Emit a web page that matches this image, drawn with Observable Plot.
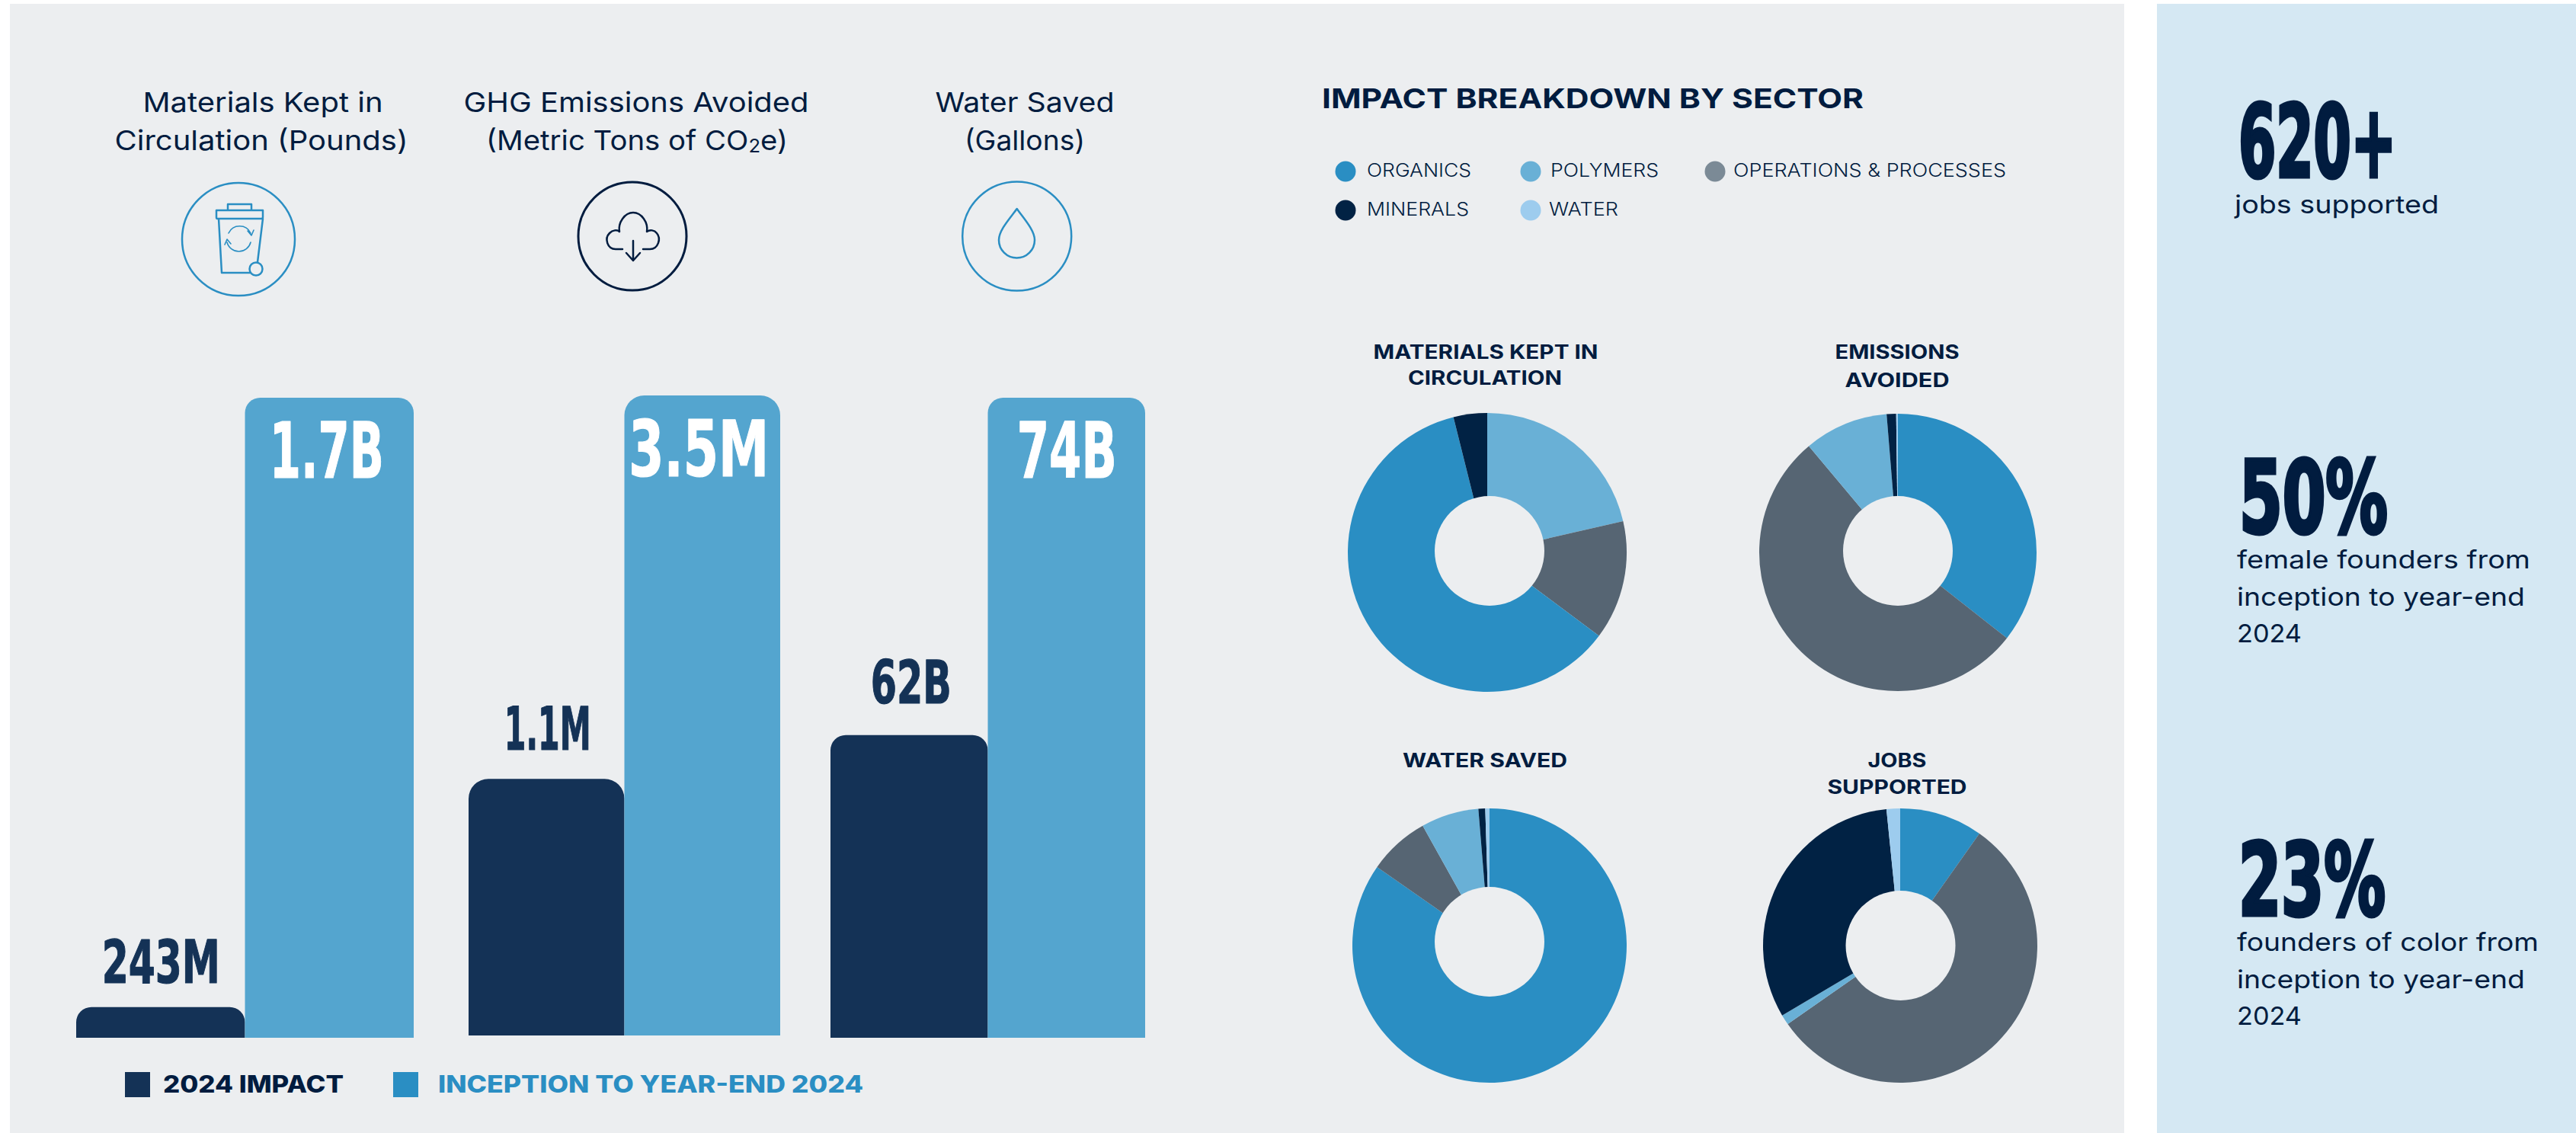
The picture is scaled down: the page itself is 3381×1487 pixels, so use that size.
<!DOCTYPE html>
<html>
<head>
<meta charset="utf-8">
<script src="https://cdn.jsdelivr.net/npm/d3@7"></script>
<script src="https://cdn.jsdelivr.net/npm/@observablehq/plot@0.6"></script>
<style>
html,body{margin:0;padding:0;background:#fff;}
#page{position:relative;width:3381px;height:1487px;overflow:hidden;background:#fff;}
.box{position:absolute;}
.slot{position:absolute;}
.slot svg{display:block;max-width:none;}
#overlay{position:absolute;left:0;top:0;}
</style>
</head>
<body>
<div id="page"></div>
<script>
// ---------- DATA ----------
const seriesNames = ["2024 IMPACT", "INCEPTION TO YEAR-END 2024"];
const impactLabels = ["243M", "1.1M", "62B"];
const inceptionLabels = ["1.7B", "3.5M", "74B"];
// bar heights as drawn, in percent of the tallest bar
const impactHeights = [4.8, 40.1, 47.3];
const inceptionHeights = [100, 100, 100];

const sectors = ["ORGANICS", "POLYMERS", "OPERATIONS & PROCESSES", "MINERALS", "WATER"];
const materialsSectors = ["POLYMERS", "OPERATIONS & PROCESSES", "ORGANICS", "MINERALS"];
const materialsShares = [21.4, 13.8, 60.9, 3.9];
const emissionsSectors = ["ORGANICS", "OPERATIONS & PROCESSES", "POLYMERS", "MINERALS", "WATER"];
const emissionsShares = [35.6, 53.3, 9.8, 1.1, 0.2];
const waterSectors = ["ORGANICS", "OPERATIONS & PROCESSES", "POLYMERS", "MINERALS", "WATER"];
const waterShares = [84.7, 7.2, 6.8, 0.8, 0.5];
const jobsSectors = ["ORGANICS", "OPERATIONS & PROCESSES", "POLYMERS", "MINERALS", "WATER"];
const jobsShares = [9.8, 55.5, 1.2, 31.9, 1.6];

// ---------- STYLE ----------
const NAVY = "#011C3F", BAR_DARK = "#143256", BAR_LIGHT = "#54A5CF", BLUE = "#2A8EC3", PANEL = "#ECEEF0";
const sectorColors = ["#2A8EC3", "#69B0D6", "#566573", "#012244", "#9DCCEE"];
const legendColors = ["#2A8EC3", "#69B0D6", "#7B8A96", "#012244", "#9DCCEE"];
const SANS = "Inter, 'Noto Sans', sans-serif";
const NARROW = "'Liberation Sans Narrow', 'DejaVu Sans Condensed', sans-serif";

const page = document.getElementById("page");
function box(l, t, w, h, bg) {
  const d = document.createElement("div");
  d.className = "box";
  d.style.cssText = `left:${l}px;top:${t}px;width:${w}px;height:${h}px;background:${bg}`;
  page.appendChild(d);
}
box(13, 5, 2775, 1482, PANEL);
box(2831, 5, 550, 1482, "#D5E8F3");

function place(node, left, top, w) {
  const s = document.createElement("div");
  s.className = "slot";
  s.style.cssText = `left:${left}px;top:${top}px;width:${w}px`;
  s.appendChild(node);
  page.appendChild(s);
}

// ---------- BAR PANELS ----------
const barPanels = [
  {i: 0, left: 100, top: 522, width: 443, gap: 32, r: 20, impactW: 155, inceptionW: 150, insideDrop: 12.4, impactDx: 0, inceptionDx: -4},
  {i: 1, left: 615, top: 519, width: 409, gap: 39, r: 26, impactW: 114, inceptionW: 184, insideDrop: 12.6, impactDx: 1, inceptionDx: -5},
  {i: 2, left: 1090, top: 522, width: 413, gap: 42, r: 20, impactW: 106, inceptionW: 131, insideDrop: 12.4, impactDx: 2, inceptionDx: 0}
];
for (const p of barPanels) {
  const rows = [
    {series: seriesNames[0], h: impactHeights[p.i], label: impactLabels[p.i]},
    {series: seriesNames[1], h: inceptionHeights[p.i], label: inceptionLabels[p.i]}
  ];
  const plot = Plot.plot({
    width: p.width, height: 840,
    marginTop: 0, marginBottom: 0, marginLeft: 0, marginRight: 0,
    style: {background: "transparent"},
    x: {domain: seriesNames, padding: 0, axis: null, round: false},
    y: {domain: [0, 100], axis: null},
    color: {domain: seriesNames, range: [BAR_DARK, BAR_LIGHT]},
    marks: [
      Plot.barY(rows, {x: "series", y: "h", fill: "series", rx1y1: p.r, rx2y1: p.r}),
      Plot.text([rows[0]], {x: "series", y: "h", text: "label", dy: -p.gap, dx: p.impactDx, lineAnchor: "bottom",
        fill: BAR_DARK, stroke: BAR_DARK, strokeWidth: 1.2, fontFamily: NARROW, fontWeight: 700, fontSize: 78, className: "impact-label"}),
      Plot.text([rows[1]], {x: "series", y: d => d.h - p.insideDrop, text: "label", dx: p.inceptionDx, lineAnchor: "bottom",
        fill: "#ffffff", stroke: "#ffffff", strokeWidth: 1.2, fontFamily: NARROW, fontWeight: 700, fontSize: 102, className: "inception-label"})
    ]
  });
  const fit = (cls, w) => plot.querySelectorAll(`.${cls} text`).forEach(t => {
    t.setAttribute("textLength", w);
    t.setAttribute("lengthAdjust", "spacingAndGlyphs");
  });
  fit("impact-label", p.impactW);
  fit("inception-label", p.inceptionW);
  place(plot, p.left, p.top, p.width);
}

// ---------- DONUTS ----------
function donut(names, shares, cx, cy, r, inner, holeDx, holeDy) {
  const rows = names.map((sector, k) => ({sector, share: shares[k]}));
  const size = 2 * r + 4;
  const plot = Plot.plot({
    width: size, height: size,
    marginTop: 0, marginBottom: 0, marginLeft: 0, marginRight: 0,
    style: {background: "transparent"},
    x: {domain: [0, 100], range: [0, 2 * Math.PI], axis: null},
    color: {domain: sectors, range: sectorColors},
    marks: [
      Plot.barX(rows, Plot.stackX({
        x: "share", fill: "sector", order: null,
        render(index, scales, values, dims) {
          const arc = d3.arc().innerRadius(0).outerRadius(r);
          const g = d3.create("svg:g").attr("transform", `translate(${dims.width / 2},${dims.height / 2})`);
          for (const i of index) {
            g.append("path")
              .attr("d", arc({startAngle: values.x1[i], endAngle: values.x2[i]}))
              .attr("fill", values.fill[i]);
          }
          g.append("circle").attr("cx", holeDx).attr("cy", holeDy).attr("r", inner).attr("fill", PANEL);
          return g.node();
        }
      }))
    ]
  });
  place(plot, cx - size / 2, cy - size / 2, size);
}
donut(materialsSectors, materialsShares, 1952, 725, 183, 72, 3, -2);
donut(emissionsSectors, emissionsShares, 2491, 725, 182, 72, 0, -2);
donut(waterSectors, waterShares, 1955, 1241, 180, 72, 0, -5);
donut(jobsSectors, jobsShares, 2493.5, 1241, 180, 72, 0.5, 0);

// ---------- OVERLAY: TEXT AND ICONS ----------
const overlay = d3.select(page).append("svg").attr("id", "overlay")
  .attr("width", 3381).attr("height", 1487).attr("viewBox", "0 0 3381 1487");

function label(str, x, y, width, o = {}) {
  const t = overlay.append("text").attr("x", x).attr("y", y)
    .attr("fill", o.color || NAVY)
    .attr("font-family", o.font || SANS)
    .attr("font-size", o.size || 30)
    .attr("font-weight", o.weight || 400)
    .attr("text-anchor", o.anchor || "start");
  if (o.stroke) t.attr("stroke", o.color || NAVY).attr("stroke-width", o.stroke);
  if (width) t.attr("textLength", width).attr("lengthAdjust", "spacingAndGlyphs");
  t.text(str);
  return t;
}

// column headings
const HEAD = {size: 36, weight: 400, anchor: "middle"};
label("Materials Kept in", 345, 147, 315, HEAD);
label("Circulation (Pounds)", 343, 197, 385, HEAD);
label("GHG Emissions Avoided", 835, 147, 453, HEAD);
{
  const t = label("", 836, 197, 396, HEAD);
  t.append("tspan").text("(Metric Tons of CO");
  t.append("tspan").attr("font-size", 24).attr("dy", 3).text("2");
  t.append("tspan").attr("dy", -3).text("e)");
}
label("Water Saved", 1345, 147, 235, HEAD);
label("(Gallons)", 1345, 197, 158, HEAD);

// icons
function ring(cx, cy, r, color, w) {
  overlay.append("circle").attr("cx", cx).attr("cy", cy).attr("r", r)
    .attr("fill", "none").attr("stroke", color).attr("stroke-width", w);
}
function glyph(d, color, w) {
  overlay.append("path").attr("d", d).attr("fill", "none").attr("stroke", color)
    .attr("stroke-width", w).attr("stroke-linejoin", "round").attr("stroke-linecap", "round");
}
ring(313, 314, 74, BLUE, 2.5);
glyph("M299,276 V268 H330 V276 M284,276 H345 V285 Q345,287 343,287 H285 Q284,287 284,285 Z M287,287 L291,358 H328 M345,287 L338,344", BLUE, 2.5);
overlay.append("circle").attr("cx", 336).attr("cy", 353).attr("r", 8.5).attr("fill", "none").attr("stroke", BLUE).attr("stroke-width", 2.5);
glyph("M300,306 A16,16 0 0 1 329,306 M329,318 A16,16 0 0 1 298,318 M325,303 L330,309 L333,302 M295,321 L298,314 L303,320", BLUE, 1.6);
ring(830, 310, 71, NAVY, 3);
glyph("M817,327 H808 C797,327 793,313 800,306 C804,302 810,301 813,304 C811,292 820,279 831,279 C842,279 851,292 849,304 C853,301 859,302 862,306 C868,313 864,327 853,327 H844 M831,316 V342 M822,332 L831,342 L840,332", NAVY, 2.5);
ring(1334.7, 310, 71.5, BLUE, 2.5);
glyph("M1334.7,274 C1326,286 1311,302 1311,315 A23.5,23.5 0 0 0 1358,315 C1358,302 1343,286 1334.7,274 Z", BLUE, 2.5);

// bottom legend
overlay.append("rect").attr("x", 164).attr("y", 1407).attr("width", 33).attr("height", 33).attr("fill", BAR_DARK);
label(seriesNames[0], 214, 1434, 237, {size: 31, weight: 800});
overlay.append("rect").attr("x", 516).attr("y", 1407).attr("width", 33).attr("height", 33).attr("fill", BLUE);
label(seriesNames[1], 575, 1434, 558, {size: 31, weight: 800, color: BLUE});

// sector heading + legend
label("IMPACT BREAKDOWN BY SECTOR", 1735, 142, 711, {size: 36, weight: 700});
const legendSlots = [[1766, 225, 1794, 232, 137], [2009, 225, 2035, 232, 142], [2251, 225, 2275, 232, 358], [1766, 276, 1794, 283, 134], [2009, 276, 2033, 283, 91]];
sectors.forEach((s, k) => {
  const [dx, dy, tx, ty, w] = legendSlots[k];
  overlay.append("circle").attr("cx", dx).attr("cy", dy).attr("r", 13.5).attr("fill", legendColors[k]);
  label(s, tx, ty, w, {size: 24, weight: 300});
});

// donut titles
const DT = {size: 25, weight: 700, anchor: "middle"};
label("MATERIALS KEPT IN", 1950, 471, 295, DT);
label("CIRCULATION", 1949, 505, 202, DT);
label("EMISSIONS", 2490, 471, 163, DT);
label("AVOIDED", 2490, 508, 137, DT);
label("WATER SAVED", 1949, 1007, 216, DT);
label("JOBS", 2490, 1007, 77, DT);
label("SUPPORTED", 2490, 1042, 183, DT);

// right column
const BIG = {size: 131, weight: 700, font: NARROW, stroke: 5};
const SUB = {size: 33, weight: 400};
label("620+", 2938, 232, 207, BIG);
label("jobs supported", 2933, 280, 268, SUB);
label("50%", 2939, 699, 195, BIG);
label("female founders from", 2936, 746, 385, SUB);
label("inception to year-end", 2936, 795, 378, SUB);
label("2024", 2936, 843, 85, SUB);
label("23%", 2938, 1201, 193, BIG);
label("founders of color from", 2936, 1248, 396, SUB);
label("inception to year-end", 2936, 1297, 378, SUB);
label("2024", 2936, 1345, 85, SUB);
</script>
</body>
</html>
